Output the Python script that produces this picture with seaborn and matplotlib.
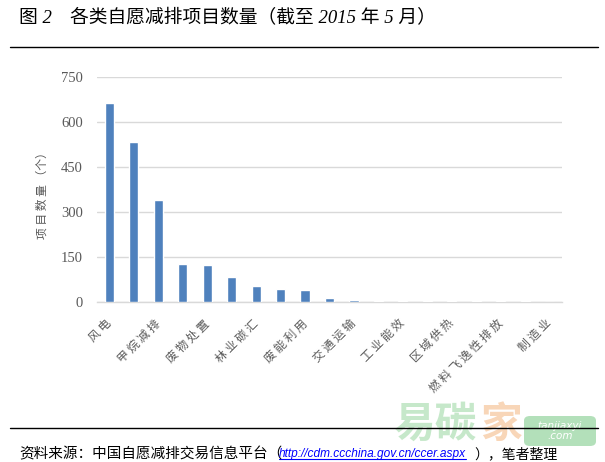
import matplotlib
matplotlib.use("Agg")
import matplotlib.pyplot as plt
from matplotlib.patches import FancyBboxPatch
from matplotlib.lines import Line2D
import seaborn as sns
import pandas as pd

# ---------------- data ----------------
categories = ["风电", "水电", "甲烷减排", "光伏发电", "废物处置", "生物质能", "林业碳汇",
              "燃料替代", "废能利用", "节能改造", "交通运输", "垃圾焚烧", "工业能效",
              "化工", "区域供热", "建筑", "燃料飞逸性排放", "农业", "制造业"]
counts = [663, 533, 339, 126, 122, 85, 55, 42, 39, 13, 7, 5, 5, 5, 5, 5, 5, 5, 0]
yticks = [0, 150, 300, 450, 600, 750]
title_num = "图 2"
title_text = "各类自愿减排项目数量（截至 2015 年 5 月）"
ylabel = "项目数量（个）"
source_pre = "资料来源：中国自愿减排交易信息平台（"
source_url = "http://cdm.ccchina.gov.cn/ccer.aspx"
source_post = "），笔者整理"

W, H = 605, 462
sns.set_theme(style="white")
plt.rcParams['font.family'] = ['Noto Sans CJK SC', 'DejaVu Sans']

df = pd.DataFrame({"类别": categories, "数量": counts})

fig = plt.figure(figsize=(W / 100, H / 100), dpi=100)
ax = fig.add_axes([97 / W, 1 - 302 / H, 465 / W, 225 / H])

sns.barplot(data=df, x="类别", y="数量", order=categories, color="#4F81BD",
            saturation=1, width=0.37, ax=ax)
for p in ax.patches:
    p.set_zorder(5)

ax.set_xlim(-0.5, len(categories) - 0.5)
ax.set_ylim(0, 750)
ax.set_yticks(yticks)
ax.set_yticklabels([str(v) for v in yticks], family="Liberation Serif",
                   fontsize=10.5, color="#595959")
shown = list(range(0, len(categories), 2))
ax.set_xticks(shown)
ax.set_xticklabels([" ".join(categories[i]) for i in shown], rotation=45,
                   ha="right", va="center", rotation_mode="anchor",
                   fontsize=8.5, color="#595959")
ax.tick_params(axis="x", length=0, pad=14)
ax.tick_params(axis="y", length=0, pad=10)
ax.set_xlabel("")
ax.set_ylabel("")
ax.set_axisbelow(True)
ax.yaxis.grid(True, color="#D9D9D9", linewidth=1.0)
ax.xaxis.grid(False)
for s in ["top", "right", "left"]:
    ax.spines[s].set_visible(False)
ax.spines["bottom"].set_color("#D9D9D9")
ax.spines["bottom"].set_linewidth(1.0)
ax.spines["bottom"].set_zorder(1)

fig.text(42 / W, 1 - 193 / H, " ".join(ylabel[:4]) + " " + ylabel[4:], rotation=90,
         ha="center", va="center", fontsize=8.5, color="#595959")

# title
tfam = ['Liberation Serif', 'Noto Sans CJK SC']
fig.text(19 / W, 1 - 18 / H, title_num, ha="left", va="center", fontsize=13.5,
         family=tfam, style="italic", color="black")
fig.text(70 / W, 1 - 18 / H, title_text, ha="left", va="center", fontsize=13.5,
         family=tfam, style="italic", color="black")
fig.add_artist(Line2D([10 / W, 598 / W], [1 - 47 / H, 1 - 47 / H], color="black", lw=1.0))
fig.add_artist(Line2D([10 / W, 598 / W], [1 - 428 / H, 1 - 428 / H], color="black", lw=1.0))

# watermark
fig.text(393 / W, 1 - 425 / H, "易碳", ha="left", va="center", fontsize=30,
         color="#c6e8ca", fontweight="bold", zorder=0)
fig.text(480 / W, 1 - 425 / H, "家", ha="left", va="center", fontsize=30,
         color="#f8d6b8", fontweight="bold", zorder=0)
box = FancyBboxPatch((524 / W, 1 - 446 / H), 72 / W, 30 / H,
                     boxstyle="round,pad=0.0,rounding_size=0.01",
                     transform=fig.transFigure, facecolor="#b3e0ba",
                     edgecolor="none", zorder=0)
fig.add_artist(box)
fig.text(560 / W, 1 - 431 / H, "tanjiaxyi\n.com", ha="center", va="center",
         fontsize=7.5, color="white", family="DejaVu Sans", style="italic",
         linespacing=0.9, zorder=1)

# source
sfam = ['Liberation Serif', 'Noto Sans CJK SC']
fig.text(19 / W, 1 - 454 / H, source_pre, ha="left", va="center", fontsize=10.5,
         family=sfam, style="italic", color="black")
url = fig.text(279 / W, 1 - 454 / H, source_url, ha="left", va="center", fontsize=8.6,
               family="Liberation Sans", style="italic", color="#0000FF")
fig.text(474 / W, 1 - 454 / H, source_post, ha="left", va="center", fontsize=10,
         family=sfam, style="italic", color="black")

fig.canvas.draw()
bb = url.get_window_extent()
fig.add_artist(Line2D([bb.x0 / W, bb.x1 / W], [(bb.y0 + 1) / H, (bb.y0 + 1) / H],
                      color="#0000FF", lw=0.8))

fig.savefig("out.png", dpi=100)
